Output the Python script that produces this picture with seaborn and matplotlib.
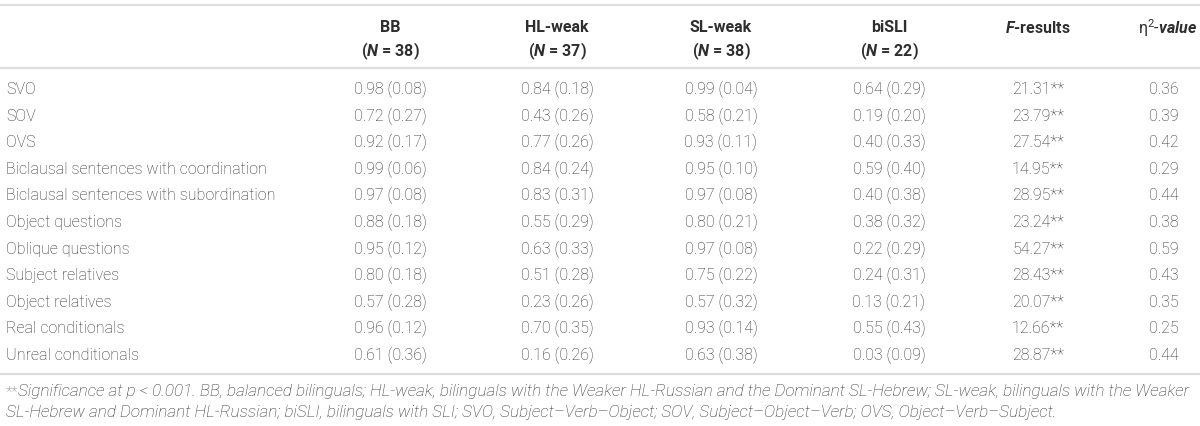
import matplotlib.pyplot as plt
import seaborn as sns

# =====================================
# Table data
# =====================================

row_labels = [
    "SVO",
    "SOV",
    "OVS",
    "Biclausal sentences with coordination",
    "Biclausal sentences with subordination",
    "Object questions",
    "Oblique questions",
    "Subject relatives",
    "Object relatives",
    "Real conditionals",
    "Unreal conditionals",
]

groups = ["BB", "HL-weak", "SL-weak", "biSLI"]
group_n = [38, 37, 38, 22]

bb = ["0.98 (0.08)", "0.72 (0.27)", "0.92 (0.17)", "0.99 (0.06)", "0.97 (0.08)", "0.88 (0.18)",
      "0.95 (0.12)", "0.80 (0.18)", "0.57 (0.28)", "0.96 (0.12)", "0.61 (0.36)"]
hl_weak = ["0.84 (0.18)", "0.43 (0.26)", "0.77 (0.26)", "0.84 (0.24)", "0.83 (0.31)", "0.55 (0.29)",
           "0.63 (0.33)", "0.51 (0.28)", "0.23 (0.26)", "0.70 (0.35)", "0.16 (0.26)"]
sl_weak = ["0.99 (0.04)", "0.58 (0.21)", "0.93 (0.11)", "0.95 (0.10)", "0.97 (0.08)", "0.80 (0.21)",
           "0.97 (0.08)", "0.75 (0.22)", "0.57 (0.32)", "0.93 (0.14)", "0.63 (0.38)"]
bisli = ["0.64 (0.29)", "0.19 (0.20)", "0.40 (0.33)", "0.59 (0.40)", "0.40 (0.38)", "0.38 (0.32)",
         "0.22 (0.29)", "0.24 (0.31)", "0.13 (0.21)", "0.55 (0.43)", "0.03 (0.09)"]
f_results = ["21.31", "23.79", "27.54", "14.95", "28.95", "23.24",
             "54.27", "28.43", "20.07", "12.66", "28.87"]
eta_sq = ["0.36", "0.39", "0.42", "0.29", "0.44", "0.38",
          "0.59", "0.43", "0.35", "0.25", "0.44"]

footnote_1 = ("Significance at p < 0.001. BB, balanced bilinguals; HL-weak, bilinguals with the Weaker "
              "HL-Russian and the Dominant SL-Hebrew; SL-weak, bilinguals with the Weaker")
footnote_2 = ("SL-Hebrew and Dominant HL-Russian; biSLI, bilinguals with SLI; SVO, Subject\u2013Verb\u2013Object; "
              "SOV, Subject\u2013Object\u2013Verb; OVS, Object\u2013Verb\u2013Subject.")

# =====================================
# Style
# =====================================

sns.set_theme(style="white")
plt.rcParams["font.family"] = ["Roboto", "DejaVu Sans"]
plt.rcParams["mathtext.fontset"] = "custom"
plt.rcParams["mathtext.rm"] = "Roboto"
plt.rcParams["mathtext.it"] = "Roboto:italic"
plt.rcParams["mathtext.bf"] = "Roboto:bold"
plt.rcParams["mathtext.bfit"] = "Roboto:italic:bold"

text_color = "#2e2e2e"
rule_color = "#dddddd"
fs = 11.5
fs_note = 12.3

fig = plt.figure(figsize=(12, 4.27), dpi=100)
ax = fig.add_axes([0, 0, 1, 1])
ax.set_xlim(0, 1200)
ax.set_ylim(427, 0)
ax.axis("off")

# column centres and row layout (pixels)
col_x = [390, 557, 721, 889, 1038, 1164]
label_x = 6
first_row_y = 89.5
row_step = 26.6

# =====================================
# Rules
# =====================================

for y in [5.5, 69, 375]:
    ax.plot([0, 1200], [y, y], color=rule_color, lw=1.6)

# =====================================
# Header
# =====================================

for x, g, n in zip(col_x, groups, group_n):
    ax.text(x, 28, g, ha="center", va="center", fontsize=fs, fontweight="bold", color=text_color)
    ax.text(x, 51, "($\\mathbfit{N}$ = %d)" % n, ha="center", va="center",
            fontsize=fs, fontweight="bold", color=text_color)

ax.text(col_x[4], 28, "$\\mathbfit{F}$-results", ha="center", va="center",
        fontsize=fs, fontweight="bold", color=text_color)
ax.text(col_x[5] + 4, 28, "$\\mathrm{\\eta}^{2}$$\\mathbfit{\\text{-}value}$", ha="center", va="center",
        fontsize=fs, fontweight="bold", color=text_color)

# =====================================
# Body
# =====================================

columns = [bb, hl_weak, sl_weak, bisli]

for i, label in enumerate(row_labels):
    y = first_row_y + i * row_step
    ax.text(label_x, y, label, ha="left", va="center", fontsize=fs, fontweight="light", color=text_color)
    for x, col in zip(col_x, columns):
        ax.text(x, y, col[i], ha="center", va="center", fontsize=fs, fontweight="light", color=text_color)
    ax.text(col_x[4], y, f_results[i] + "**", ha="center", va="center", fontsize=fs,
            fontweight="light", color=text_color)
    ax.text(col_x[5], y, eta_sq[i], ha="center", va="center", fontsize=fs,
            fontweight="light", color=text_color)

# =====================================
# Footnote
# =====================================

stars = ax.text(label_x, 399, "**", ha="left", va="bottom", fontsize=fs_note - 1.5,
                fontweight="light", color="#777777")
ax.annotate(footnote_1, xy=(1, 0), xycoords=stars, ha="left", va="bottom",
            fontsize=fs_note, style="italic", fontweight="light", color=text_color)
ax.text(label_x, 420, footnote_2, ha="left", va="bottom", fontsize=fs_note,
        style="italic", fontweight="light", color=text_color)

fig.savefig("out.png", dpi=100, facecolor="white")
